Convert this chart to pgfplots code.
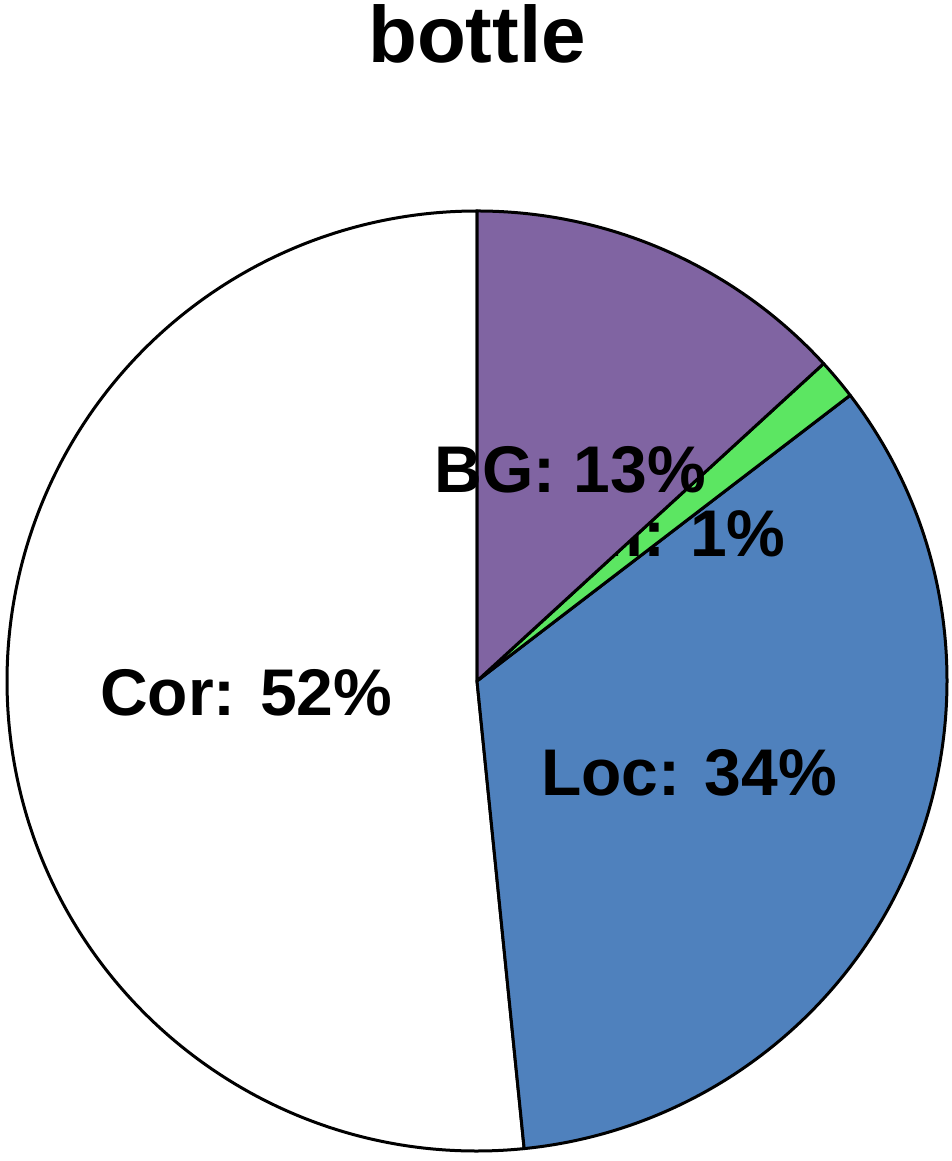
\documentclass[border=0pt]{standalone}
\usepackage{pgfplots}
\pgfplotsset{compat=1.18}
\usepackage{fontspec}
\setmainfont{Liberation Sans}

\definecolor{corc}{RGB}{255,255,255}
\definecolor{locc}{RGB}{79,129,189}
\definecolor{simc}{RGB}{92,230,98}
\definecolor{bgc}{RGB}{128,100,162}

% shares in percent, clockwise from 12 o'clock: BG 13.2, Sim 1.4, Loc 33.8, Cor 51.6
% \slice{cumulative start}{share}{colour}{label}
\newcommand{\slice}[4]{%
  \filldraw[fill=#3, draw=black, line width=1.5pt, line join=round]
    (axis cs:477,480) -- ++({90-3.6*#1}:235pt)
    arc[start angle={90-3.6*#1}, end angle={90-3.6*(#1+#2)}, radius=235pt] -- cycle;
  \node[font=\bfseries\fontsize{33}{40}\selectfont]
    at (axis cs:{477+231*cos(90-3.6*(#1+#2/2))},{480+231*sin(90-3.6*(#1+#2/2))}) {#4};
}

\begin{document}
\begin{tikzpicture}
\begin{axis}[
  width=476pt, height=580.5pt, scale only axis,
  xmin=0, xmax=952, ymin=0, ymax=1161,
  hide axis, clip=false,
]
  \slice{48.4}{51.6}{corc}{Cor: 52\%}
  \slice{14.6}{33.8}{locc}{Loc: 34\%}
  \slice{13.2}{1.4}{simc}{Sim: 1\%}
  \slice{0}{13.2}{bgc}{BG: 13\%}
  \node[font=\bfseries\fontsize{40}{48}\selectfont, anchor=base] at (axis cs:477,1098) {bottle};
\end{axis}
\pgfresetboundingbox
\path (0,0) rectangle (476pt,580.5pt);
\end{tikzpicture}
\end{document}
